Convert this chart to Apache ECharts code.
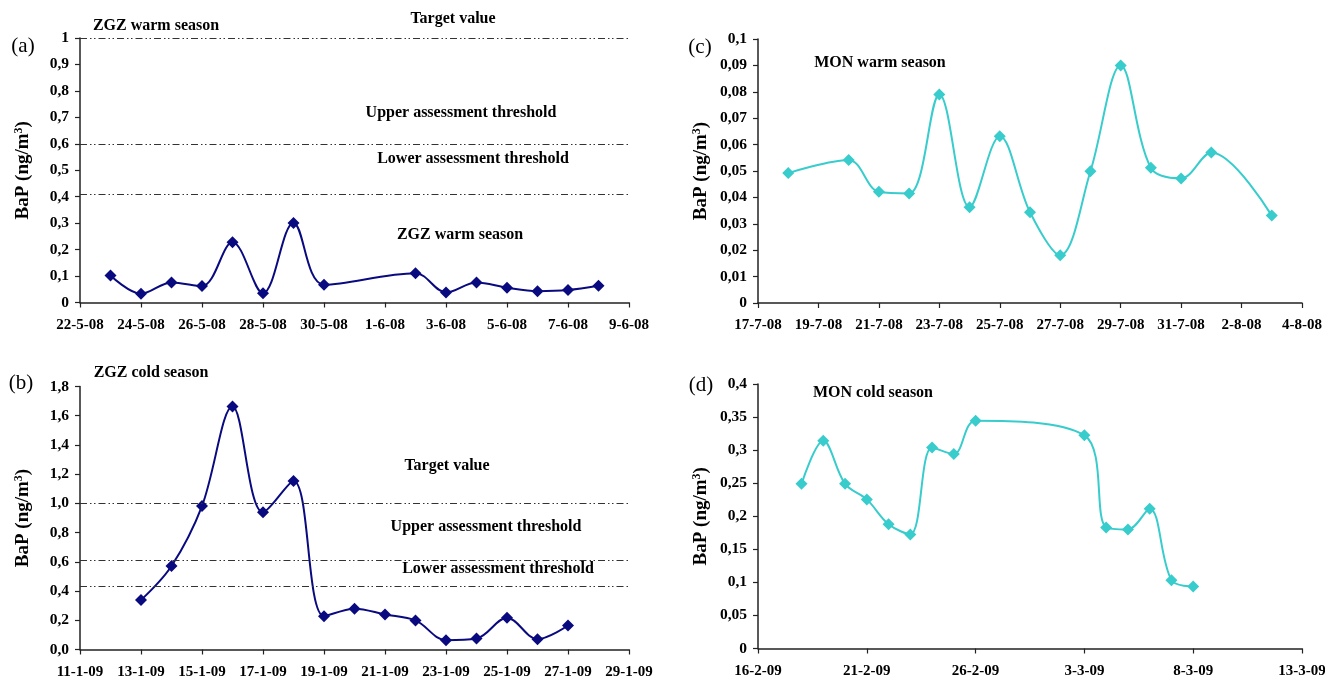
<!DOCTYPE html>
<html>
<head>
<meta charset="utf-8">
<script src="https://cdn.jsdelivr.net/npm/echarts@6/dist/echarts.min.js"></script>
<style>
html,body{margin:0;padding:0;background:#fff;}
#c{width:1325px;height:684px;}
</style>
</head>
<body>
<div id="c"></div>
<script>
// ---------- DATA ----------
// (a) ZGZ warm season
const datesA = ['23-5-08','24-5-08','25-5-08','26-5-08','27-5-08','28-5-08','29-5-08','30-5-08','2-6-08','3-6-08','4-6-08','5-6-08','6-6-08','7-6-08','8-6-08'];
const valuesA = [0.102,0.033,0.076,0.062,0.228,0.035,0.301,0.067,0.111,0.038,0.076,0.056,0.043,0.047,0.063];
const axisA = ['22-5-08','9-6-08'];
const stepA = 2;
const thresholdsA = [1, 0.6, 0.415];

// (b) ZGZ cold season
const datesB = ['13-1-09','14-1-09','15-1-09','16-1-09','17-1-09','18-1-09','19-1-09','20-1-09','21-1-09','22-1-09','23-1-09','24-1-09','25-1-09','26-1-09','27-1-09'];
const valuesB = [0.338,0.571,0.982,1.663,0.939,1.153,0.228,0.279,0.240,0.199,0.064,0.075,0.217,0.071,0.164];
const axisB = ['11-1-09','29-1-09'];
const stepB = 2;
const thresholdsB = [1.0, 0.61, 0.43];

// (c) MON warm season
const datesC = ['18-7-08','20-7-08','21-7-08','22-7-08','23-7-08','24-7-08','25-7-08','26-7-08','27-7-08','28-7-08','29-7-08','30-7-08','31-7-08','1-8-08','3-8-08'];
const valuesC = [0.0492,0.0542,0.0421,0.0415,0.079,0.0363,0.0632,0.0344,0.0181,0.0499,0.090,0.0512,0.0472,0.057,0.0331];
const axisC = ['17-7-08','4-8-08'];
const stepC = 2;

// (d) MON cold season
const datesD = ['18-2-09','19-2-09','20-2-09','21-2-09','22-2-09','23-2-09','24-2-09','25-2-09','26-2-09','3-3-09','4-3-09','5-3-09','6-3-09','7-3-09','8-3-09'];
const valuesD = [0.249,0.314,0.249,0.2255,0.188,0.1725,0.304,0.294,0.3446,0.3224,0.183,0.180,0.2114,0.1034,0.0938];
const axisD = ['16-2-09','13-3-09'];
const stepD = 5;

// y axis ranges
const yA = [0, 1, 0.1];
const yB = [0, 1.8, 0.2];
const yC = [0, 0.1, 0.01];
const yD = [0, 0.4, 0.05];

// ---------- HELPERS ----------
const DAY = 86400000;
function parseD(s){ const p = s.split('-').map(Number); return Date.UTC(2000+p[2], p[1]-1, p[0]); }
function fmtD(t){ const d = new Date(t); return d.getUTCDate()+'-'+(d.getUTCMonth()+1)+'-'+String(d.getUTCFullYear()%100).padStart(2,'0'); }
function pts(dates, vals, start){ const t0 = parseD(start); return dates.map((d,i)=>[Math.round((parseD(d)-t0)/DAY), vals[i]]); }
function span(ax){ return Math.round((parseD(ax[1])-parseD(ax[0]))/DAY); }

const SERIF = '"Liberation Serif","Times New Roman",serif';
const axisColor = '#222';

const grids = [
  {left:80, top:38, width:549, height:264.5},
  {left:80, top:386.5, width:549, height:263},
  {left:758, top:39, width:544, height:264},
  {left:758, top:384, width:544, height:264.5}
];

function fmtComma(v, dec, fixed){
  let s = fixed ? v.toFixed(dec) : String(parseFloat(v.toFixed(dec)));
  return s.replace('.', ',');
}

function xAxisFor(i, ax, step){
  const t0 = parseD(ax[0]);
  return {
    gridIndex:i, type:'value', min:0, max:span(ax), interval:step,
    axisLine:{show:true, onZero:false, lineStyle:{color:axisColor, width:1.5}},
    axisTick:{show:true, inside:false, length:5, lineStyle:{color:axisColor, width:1.2}},
    splitLine:{show:false},
    axisLabel:{margin:15, color:'#000', fontFamily:SERIF, fontWeight:'bold', fontSize:15,
      showMinLabel:true, showMaxLabel:true, hideOverlap:false,
      formatter:v=>fmtD(t0+v*DAY)}
  };
}
function yAxisFor(i, r, dec, fixed){
  return {
    gridIndex:i, type:'value', min:r[0], max:r[1], interval:r[2],
    name:'{a|BaP (ng/m}{s|3}{a|)}', nameLocation:'middle', nameGap:46, nameRotate:90,
    nameTextStyle:{rich:{
      a:{fontFamily:SERIF, fontWeight:'bold', fontSize:19, color:'#000'},
      s:{fontFamily:SERIF, fontWeight:'bold', fontSize:12, color:'#000', verticalAlign:'top', padding:[0,0,9,0]}
    }},
    axisLine:{show:true, lineStyle:{color:axisColor, width:1.5}},
    axisTick:{show:true, inside:false, length:5, lineStyle:{color:axisColor, width:1.2}},
    splitLine:{show:false},
    axisLabel:{margin:11, color:'#000', fontFamily:SERIF, fontWeight:'bold', fontSize:15.5,
      showMinLabel:true, showMaxLabel:true,
      formatter:v=>fmtComma(v, dec, fixed)}
  };
}

const navy = '#0a0a80';
const cyan = '#38cccc';
const refStyle = {color:'#333', width:1, type:[7,3,1.5,2.5,1.5,3]};

function series(i, data, color, thresholds){
  const s = {
    type:'line', xAxisIndex:i, yAxisIndex:i, data:data, smooth:0.35,
    symbol:'diamond', symbolSize:12, showSymbol:true,
    lineStyle:{color:color, width:2}, itemStyle:{color:color},
    z:3, animation:false
  };
  if (thresholds){
    s.markLine = {silent:true, symbol:['none','none'], label:{show:false},
      lineStyle:refStyle, animation:false,
      data:thresholds.map(v=>({yAxis:v}))};
  }
  return s;
}

function txt(text, x, y, size, bold, align){
  return {type:'text', x:x, y:y, silent:true,
    style:{text:text, fill:'#000', font:(bold?'bold ':'')+size+'px '+SERIF,
      textAlign:align||'center', textVerticalAlign:'middle'}};
}

const chart = echarts.init(document.getElementById('c'), null, {renderer:'canvas'});
chart.setOption({
  backgroundColor:'#fff',
  animation:false,
  grid:grids.map(g=>Object.assign({containLabel:false, outerBoundsMode:'none'}, g)),
  xAxis:[xAxisFor(0,axisA,stepA), xAxisFor(1,axisB,stepB), xAxisFor(2,axisC,stepC), xAxisFor(3,axisD,stepD)],
  yAxis:[yAxisFor(0,yA,1,false), yAxisFor(1,yB,1,true), yAxisFor(2,yC,2,false), yAxisFor(3,yD,2,false)],
  series:[
    series(0, pts(datesA,valuesA,axisA[0]), navy, thresholdsA),
    series(1, pts(datesB,valuesB,axisB[0]), navy, thresholdsB),
    series(2, pts(datesC,valuesC,axisC[0]), cyan, null),
    series(3, pts(datesD,valuesD,axisD[0]), cyan, null)
  ],
  graphic:[
    txt('(a)', 23, 46, 21, false),
    txt('ZGZ warm season', 156, 26, 16, true),
    txt('Target value', 453, 19, 16, true),
    txt('Upper assessment threshold', 461, 113, 16, true),
    txt('Lower assessment threshold', 473, 159, 16, true),
    txt('ZGZ warm season', 460, 235, 16, true),
    txt('(b)', 21, 383, 21, false),
    txt('ZGZ cold season', 151, 373, 16, true),
    txt('Target value', 447, 466, 16, true),
    txt('Upper assessment threshold', 486, 527, 16, true),
    txt('Lower assessment threshold', 498, 569, 16, true),
    txt('(c)', 700, 47, 21, false),
    txt('MON warm season', 880, 63, 16, true),
    txt('(d)', 701, 385, 21, false),
    txt('MON cold season', 873, 393, 16, true)
  ]
});
</script>
</body>
</html>
